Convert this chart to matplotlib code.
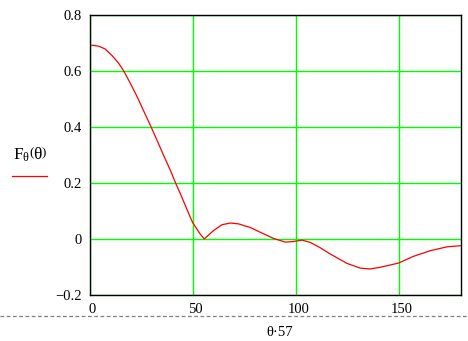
import matplotlib
matplotlib.use("Agg")
import matplotlib.pyplot as plt
from matplotlib.lines import Line2D
import matplotlib.transforms as mtransforms

# Data
theta_deg = [0, 4.1, 7.3, 10.7, 13.8, 16.4, 19.6, 22.9, 26.1, 29.7, 32.6, 35.8,
             39.0, 41.6, 44.7, 47.9, 49.9, 53.3, 55.5, 60.0, 64.1, 68.2, 72.2,
             77.9, 82.7, 89.2, 94.9, 98.9, 103.0, 107.0, 111.8, 115.9, 118.3,
             124.8, 131.3, 136.1, 141.0, 149.9, 157.1, 165.2, 173.4, 180.0]
F_theta = [0.693, 0.689, 0.679, 0.655, 0.629, 0.600, 0.556, 0.508, 0.457, 0.400,
           0.352, 0.298, 0.246, 0.200, 0.148, 0.092, 0.058, 0.020, 0.000, 0.030,
           0.051, 0.057, 0.054, 0.041, 0.024, 0.002, -0.011, -0.009, -0.004,
           -0.012, -0.031, -0.050, -0.060, -0.087, -0.104, -0.107, -0.101,
           -0.086, -0.062, -0.042, -0.028, -0.024]
x_ticks = [0, 50, 100, 150]
x_ticklabels = ["0", "50", "100", "150"]
y_ticks = [-0.2, 0, 0.2, 0.4, 0.6, 0.8]
y_ticklabels = ["\u22120.2", "0", "0.2", "0.4", "0.6", "0.8"]

plt.rcParams['font.family'] = ['Liberation Serif', 'DejaVu Serif']
plt.rcParams['mathtext.fontset'] = 'custom'
plt.rcParams['mathtext.rm'] = 'Liberation Serif'
plt.rcParams['mathtext.it'] = 'Liberation Serif'

W, H = 468, 341
fig = plt.figure(figsize=(W / 100, H / 100), dpi=100)
fig.patch.set_facecolor('white')

L, R, T, B = 90, 460.5, 15, 295
ax = fig.add_axes([L / W, 1 - B / H, (R - L) / W, (B - T) / H])
ax.set_xlim(0, 180)
ax.set_ylim(-0.2, 0.8)
ax.set_xticks(x_ticks)
ax.set_xticklabels(x_ticklabels)
ax.set_yticks(y_ticks)
ax.set_yticklabels(y_ticklabels)
ax.grid(True, color='#00ff00', linewidth=1.0)
ax.set_axisbelow(True)
ax.tick_params(length=0, labelsize=10.5, colors='black', pad=6)
for lbl in ax.get_xticklabels():
    lbl.set_transform(lbl.get_transform() + mtransforms.ScaledTranslation(2.5 / 100, 0, fig.dpi_scale_trans))
for s in ax.spines.values():
    s.set_color('black')
    s.set_linewidth(1.0)

ax.plot(theta_deg, F_theta, color='#ff0000', linewidth=0.9)

# y label and trace indicator
fig.text(30 / W, 1 - 155 / H, r'$\mathrm{F}_{\theta}\left(\theta\right)$', fontsize=12.5,
         ha='center', va='center')
fig.add_artist(Line2D([12 / W, 47 / W], [1 - 175.5 / H, 1 - 175.5 / H],
                      color='#ff0000', linewidth=0.9, transform=fig.transFigure))

# x label
fig.text(280 / W, 1 - 333 / H, "\u03b8\u00b757", fontsize=10.5,
         ha='center', va='center')

# dashed separator
fig.add_artist(Line2D([0, 1], [1 - 315.5 / H, 1 - 315.5 / H], color='#808080',
                      linewidth=0.9, linestyle=(0, (3, 2)), transform=fig.transFigure))

fig.savefig('out.png', dpi=100, facecolor='white')
